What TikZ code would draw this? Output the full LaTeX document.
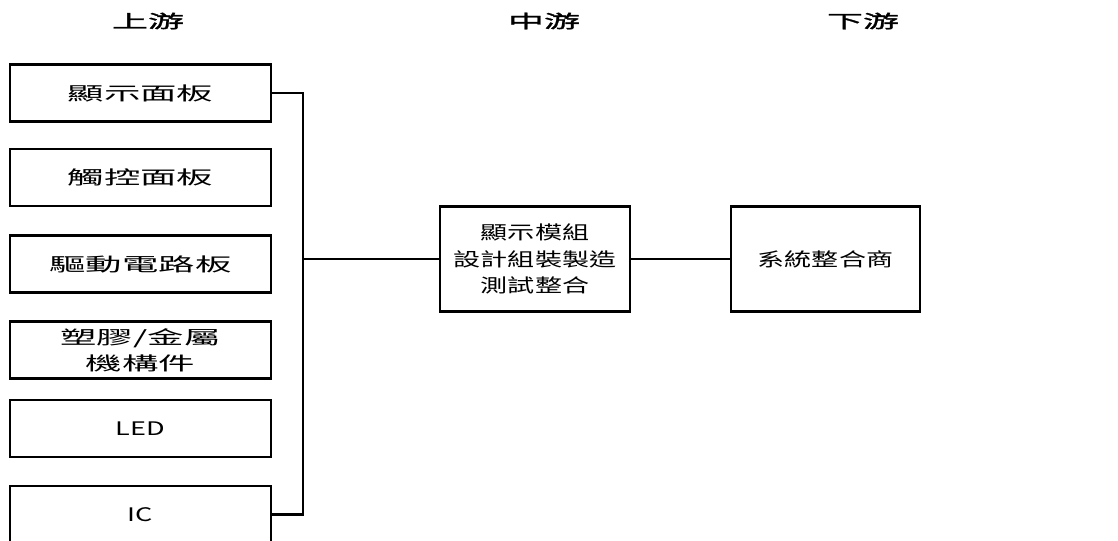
\documentclass[tikz,border=0pt]{standalone}
\usepackage{fontspec}
\usetikzlibrary{positioning}
\newfontfamily\upfont[FakeStretch=1.95]{Noto Sans CJK TC}
\newfontfamily\midfont[FakeStretch=1.45]{Noto Sans CJK TC}
\newfontfamily\headfont[FakeStretch=2.0,FakeBold=1.5]{Noto Sans CJK TC}

\begin{document}
\begin{tikzpicture}[
        x=0.75pt, y=-0.75pt,
        every node/.style={inner sep=0pt},
        head/.style={font=\headfont\fontsize{13.5}{16}\selectfont},
        part/.style={draw, line width=2pt, minimum width=195.75pt, minimum height=42.75pt, align=center,
            font=\upfont\fontsize{14}{19.5}\selectfont},
        latin/.style={part, font=\midfont\fontsize{14}{19.5}\selectfont},
        stage/.style={draw, line width=2pt, minimum width=142.5pt, minimum height=78.75pt, align=center,
            font=\midfont\fontsize{14}{20}\selectfont},
        link/.style={draw, line width=1.6pt}
    ]
    \useasboundingbox (0,0) rectangle (1118,540);
    % 標題
    \node[head] (hup)   at (148,21) {上游};
    \node[head] (hmid)  at (544,21) {中游};
    \node[head] (hdown) at (863,21) {下游};
    % 上游零組件
    \node[part]  (panel)  at (140.5,93)    {顯示面板};
    \node[part]  (touch)  at (140.5,177.5) {觸控面板};
    \node[part]  (driver) at (140.5,264)   {驅動電路板};
    \node[part]  (mech)   at (140.5,350)   {塑膠/金屬\\機構件};
    \node[latin] (led)    at (140.5,428.5) {LED};
    \node[latin] (ic)     at (140.5,514.5) {IC};
    % 中游與下游
    \node[stage] (module) at (535,259)   {顯示模組\\設計組裝製造\\測試整合};
    \node[stage, minimum width=141.75pt] (system) at (825.5,259) {系統整合商};
    \coordinate (join) at (303,259);
    % 連接線
    \draw[link, line width=2.2pt] (panel.east) -| (join) |- (ic.east);
    \draw[link] (join) -- (module);
    \draw[link] (module) -- (system);
\end{tikzpicture}
\end{document}
